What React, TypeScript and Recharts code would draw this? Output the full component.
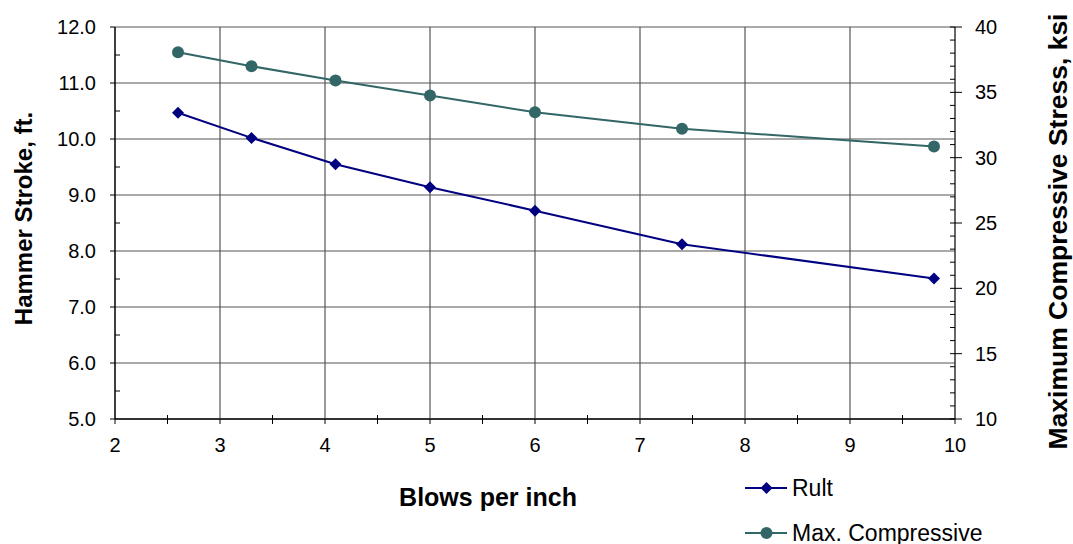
import React from "react";
import { LineChart, Line, XAxis, YAxis, ReferenceLine, Label } from "recharts";

const blowsPerInch = [2.6, 3.3, 4.1, 5.0, 6.0, 7.4, 9.8];
const rultStroke = [10.47, 10.02, 9.55, 9.14, 8.72, 8.12, 7.51];
const maxCompressive = [38.07, 37.0, 35.9, 34.75, 33.47, 32.22, 30.86];

const xTicks = [2, 2.5, 3, 3.5, 4, 4.5, 5, 5.5, 6, 6.5, 7, 7.5, 8, 8.5, 9, 9.5, 10];
const xGrid = [3, 4, 5, 6, 7, 8, 9];
const leftTicks = [5, 5.5, 6, 6.5, 7, 7.5, 8, 8.5, 9, 9.5, 10, 10.5, 11, 11.5, 12];
const leftGrid = [6, 7, 8, 9, 10, 11, 12];
const rightTicks = [10, 11, 12, 13, 14, 15, 16, 17, 18, 19, 20, 21, 22, 23, 24, 25, 26, 27, 28, 29, 30, 31, 32, 33, 34, 35, 36, 37, 38, 39, 40];

const RULT_COLOR = "#000080";
const COMP_COLOR = "#336666";
const FONT = "'Liberation Sans', Arial, sans-serif";

const seriesInfo = [
  { name: "Rult", color: RULT_COLOR, shape: "diamond" },
  { name: "Max. Compressive", color: COMP_COLOR, shape: "circle" },
];

const data = blowsPerInch.map((x, i) => ({ x, rult: rultStroke[i], comp: maxCompressive[i] }));

const XTick = (props: any) => {
  const { x, y, payload } = props;
  const v = payload.value;
  const major = Number.isInteger(v);
  return (
    <g>
      <line x1={x} x2={x} y1={major ? y : y - 4} y2={y + 5} stroke="#000" strokeWidth={1} />
      {major && (
        <text x={x} y={y + 33} textAnchor="middle" fontSize={20} fontFamily={FONT} fill="#000">
          {v}
        </text>
      )}
    </g>
  );
};

const LeftTick = (props: any) => {
  const { x, y, payload } = props;
  const v = payload.value;
  const major = Number.isInteger(v);
  return (
    <g>
      <line x1={major ? x - 5 : x} x2={major ? x : x + 5} y1={y} y2={y} stroke="#000" strokeWidth={1} />
      {major && (
        <text x={x - 19} y={y + 7} textAnchor="end" fontSize={20} fontFamily={FONT} fill="#000">
          {v.toFixed(1)}
        </text>
      )}
    </g>
  );
};

const RightTick = (props: any) => {
  const { x, y, payload } = props;
  const v = payload.value;
  const major = v % 5 === 0;
  return (
    <g>
      <line x1={x - 5} x2={major ? x + 7 : x} y1={y} y2={y} stroke="#000" strokeWidth={1} />
      {major && (
        <text x={x + 20} y={y + 7} textAnchor="start" fontSize={20} fontFamily={FONT} fill="#000">
          {v}
        </text>
      )}
    </g>
  );
};

const Diamond = (props: any) => {
  const { cx, cy, fill } = props;
  if (cx == null || cy == null) return null;
  const s = 6;
  return <path d={`M${cx},${cy - s}L${cx + s},${cy}L${cx},${cy + s}L${cx - s},${cy}Z`} fill={fill} stroke="none" />;
};

const Circle = (props: any) => {
  const { cx, cy, fill } = props;
  if (cx == null || cy == null) return null;
  return <circle cx={cx} cy={cy} r={6} fill={fill} stroke="none" />;
};

export default function App() {
  return (
    <div style={{ position: "absolute", left: 0, top: 0, width: 1073, height: 544, background: "#fff", fontFamily: FONT }}>
      <LineChart width={1073} height={544} data={data} margin={{ top: 27, right: 0, left: 0, bottom: 0 }}>
        <XAxis
          dataKey="x"
          type="number"
          domain={[2, 10]}
          ticks={xTicks}
          interval={0}
          height={125}
          tickSize={0}
          tickMargin={0}
          tick={<XTick />}
          axisLine={{ stroke: "#333", strokeWidth: 2 }}
          allowDataOverflow
        >
          <Label
            content={() => (
              <text x={488} y={506} textAnchor="middle" fontSize={25} fontWeight="bold" fontFamily={FONT} fill="#000">
                Blows per inch
              </text>
            )}
          />
        </XAxis>
        <YAxis
          yAxisId="left"
          type="number"
          domain={[5, 12]}
          ticks={leftTicks}
          interval={0}
          width={115}
          tickSize={0}
          tickMargin={0}
          tick={<LeftTick />}
          axisLine={{ stroke: "#000", strokeWidth: 1.5 }}
          allowDataOverflow
        >
          <Label
            content={() => (
              <text
                x={31.5}
                y={218.5}
                transform="rotate(-90 31.5 218.5)"
                textAnchor="middle"
                fontSize={24}
                fontWeight="bold"
                fontFamily={FONT}
                fill="#000"
              >
                Hammer Stroke, ft.
              </text>
            )}
          />
        </YAxis>
        <YAxis
          yAxisId="right"
          orientation="right"
          type="number"
          domain={[10, 40]}
          ticks={rightTicks}
          interval={0}
          width={118}
          tickSize={0}
          tickMargin={0}
          tick={<RightTick />}
          axisLine={{ stroke: "#333", strokeWidth: 1.5 }}
          allowDataOverflow
        >
          <Label
            content={() => (
              <text
                x={1067}
                y={231.5}
                transform="rotate(-90 1067 231.5)"
                textAnchor="middle"
                fontSize={26.5}
                fontWeight="bold"
                fontFamily={FONT}
                fill="#000"
              >
                Maximum Compressive Stress, ksi
              </text>
            )}
          />
        </YAxis>
        {xGrid.map((v) => (
          <ReferenceLine key={"xg" + v} x={v} yAxisId="left" stroke="#555" strokeWidth={1.2} />
        ))}
        {leftGrid.map((v) => (
          <ReferenceLine key={"yg" + v} y={v} yAxisId="left" stroke="#555" strokeWidth={1.2} />
        ))}
        <Line
          yAxisId="right"
          dataKey="comp"
          name="Max. Compressive"
          type="linear"
          stroke={COMP_COLOR}
          strokeWidth={2}
          dot={<Circle fill={COMP_COLOR} />}
          activeDot={false}
          isAnimationActive={false}
        />
        <Line
          yAxisId="left"
          dataKey="rult"
          name="Rult"
          type="linear"
          stroke={RULT_COLOR}
          strokeWidth={2}
          dot={<Diamond fill={RULT_COLOR} />}
          activeDot={false}
          isAnimationActive={false}
        />
      </LineChart>
      {seriesInfo.map((s, i) => (
        <div
          key={s.name}
          style={{ position: "absolute", left: 745, top: 476 + i * 45, height: 24, display: "flex", alignItems: "center" }}
        >
          <svg width={47} height={24}>
            <line x1={0} x2={42} y1={12} y2={12} stroke={s.color} strokeWidth={2} />
            {s.shape === "diamond" ? (
              <path d="M21.5,6L27.5,12L21.5,18L15.5,12Z" fill={s.color} />
            ) : (
              <circle cx={21.5} cy={12} r={6} fill={s.color} />
            )}
          </svg>
          <span style={{ fontSize: 23, lineHeight: "24px", color: "#000", whiteSpace: "nowrap" }}>{s.name}</span>
        </div>
      ))}
    </div>
  );
}
